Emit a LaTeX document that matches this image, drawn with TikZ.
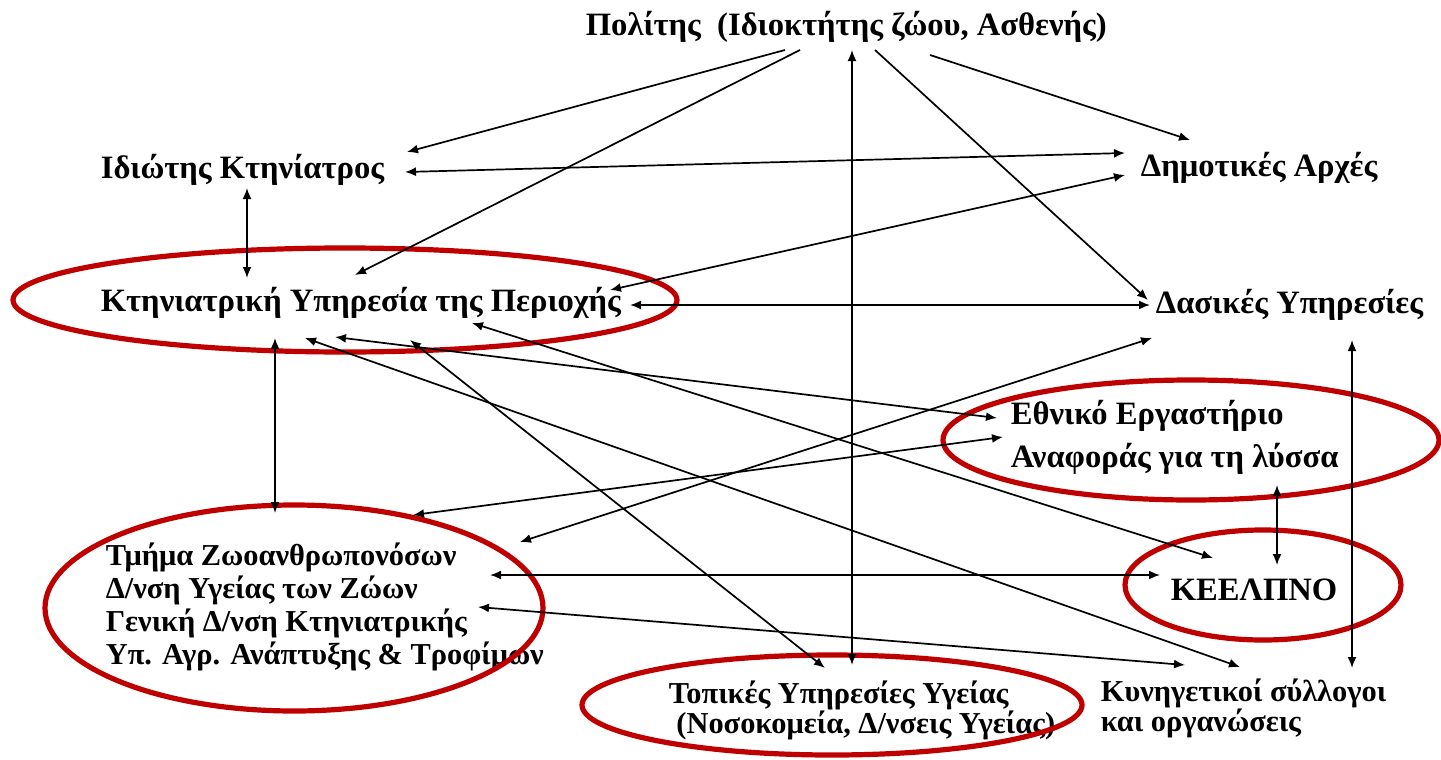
\documentclass[tikz,border=0pt]{standalone}
\usepackage{fontspec}
\setmainfont{Liberation Serif}
\usetikzlibrary{arrows.meta, calc, positioning}
\definecolor{ringred}{RGB}{190,0,0}

\begin{document}
\begin{tikzpicture}[x=0.5pt, y=-0.5pt, >={Latex[length=5.5pt, width=4.5pt]}, line width=0.85pt,
  every node/.style={anchor=west, align=left, inner sep=0pt, font=\bfseries\fontsize{16.3}{16.5}\selectfont},
  smalltext/.style={font=\bfseries\fontsize{15.2}{16.5}\selectfont},
  ring/.style={draw=ringred, line width=2.6pt}]
\useasboundingbox (0,0) rectangle (1441,760);
% Nodes
\node (citizen) at (585,27) {Πολίτης\ \ (Ιδιοκτήτης ζώου, Ασθενής)};
\node (privvet) at (100,170) {Ιδιώτης Κτηνίατρος};
\node (municipal) at (1140,168) {Δημοτικές Αρχές};
\node (vetservice) at (100,303) {Κτηνιατρική Υπηρεσία της Περιοχής};
\node (forestry) at (1155,305) {Δασικές Υπηρεσίες};
\node (reflab) at (1010,437) {Εθνικό Εργαστήριο\\[5pt]Αναφοράς για τη λύσσα};
\node[smalltext] (zoonoses) at (105,607) {Τμήμα Ζωοανθρωπονόσων\\Δ/νση Υγείας των Ζώων\\Γενική Δ/νση Κτηνιατρικής\\Υπ. Αγρ. Ανάπτυξης \& Τροφίμων};
\node (keelpno) at (1170,590) {ΚΕΕΛΠΝΟ};
\node[smalltext] (localhealth) at (668,710) {Τοπικές Υπηρεσίες Υγείας\\[-1.5pt]\ (Νοσοκομεία, Δ/νσεις Υγείας)};
\node[smalltext] (hunters) at (1100,708) {Κυνηγετικοί σύλλογοι\\[-1.5pt]και οργανώσεις};
% Circles
\draw[ring] (345,300) ellipse [x radius=332, y radius=52];
\draw[ring] (1191,440) ellipse [x radius=248, y radius=60];
\draw[ring] (294,608) ellipse [x radius=249, y radius=103];
\draw[ring] (1263,585) ellipse [x radius=138, y radius=55];
\draw[ring] (832,705) ellipse [x radius=250, y radius=50];
% Arrows
\draw[->] ($(citizen.west)+(200,23)$) -- ($(privvet.west)+(307,-18)$);
\draw[->] ($(citizen.west)+(215,23)$) -- ($(vetservice.west)+(255,-28)$);
\draw[<->] ($(citizen.west)+(267,23)$) -- ($(localhealth.west)+(184,-45)$);
\draw[->] ($(citizen.west)+(290,23)$) -- ($(forestry.west)+(-7,-5)$);
\draw[->] ($(citizen.west)+(345,28)$) -- ($(municipal.west)+(50,-28)$);
\draw[<->] ($(privvet.west)+(305,2)$) -- ($(municipal.west)+(-15,-15)$);
\draw[<->] ($(privvet.west)+(147,18)$) -- ($(vetservice.west)+(147,-25)$);
\draw[<->] ($(vetservice.west)+(510,-13)$) -- ($(municipal.west)+(-15,7)$);
\draw[<->] ($(vetservice.west)+(530,2)$) -- ($(forestry.west)+(-5,0)$);
\draw[<->] ($(vetservice.west)+(175,35)$) -- ($(zoonoses.west)+(170,-94)$);
\draw[<->] ($(vetservice.west)+(205,35)$) -- ($(hunters.west)+(140,-41)$);
\draw[<->] ($(vetservice.west)+(235,34)$) -- ($(reflab.west)+(-13,-19)$);
\draw[<->] ($(vetservice.west)+(310,37)$) -- ($(localhealth.west)+(157,-42)$);
\draw[<->] ($(vetservice.west)+(372,20)$) -- ($(keelpno.west)+(43,-32)$);
\draw[<->] ($(zoonoses.west)+(308,-92)$) -- ($(reflab.west)+(-7,0)$);
\draw[<->] ($(zoonoses.west)+(415,-65)$) -- ($(forestry.west)+(-3,33)$);
\draw[<->] ($(zoonoses.west)+(385,-32)$) -- ($(keelpno.west)+(-10,-15)$);
\draw[<->] ($(zoonoses.west)+(373,0)$) -- ($(hunters.west)+(85,-43)$);
\draw[<->] ($(reflab.west)+(267,48)$) -- ($(keelpno.west)+(107,-25)$);
\draw[<->] ($(forestry.west)+(197,35)$) -- ($(hunters.west)+(252,-40)$);
\end{tikzpicture}
\end{document}
